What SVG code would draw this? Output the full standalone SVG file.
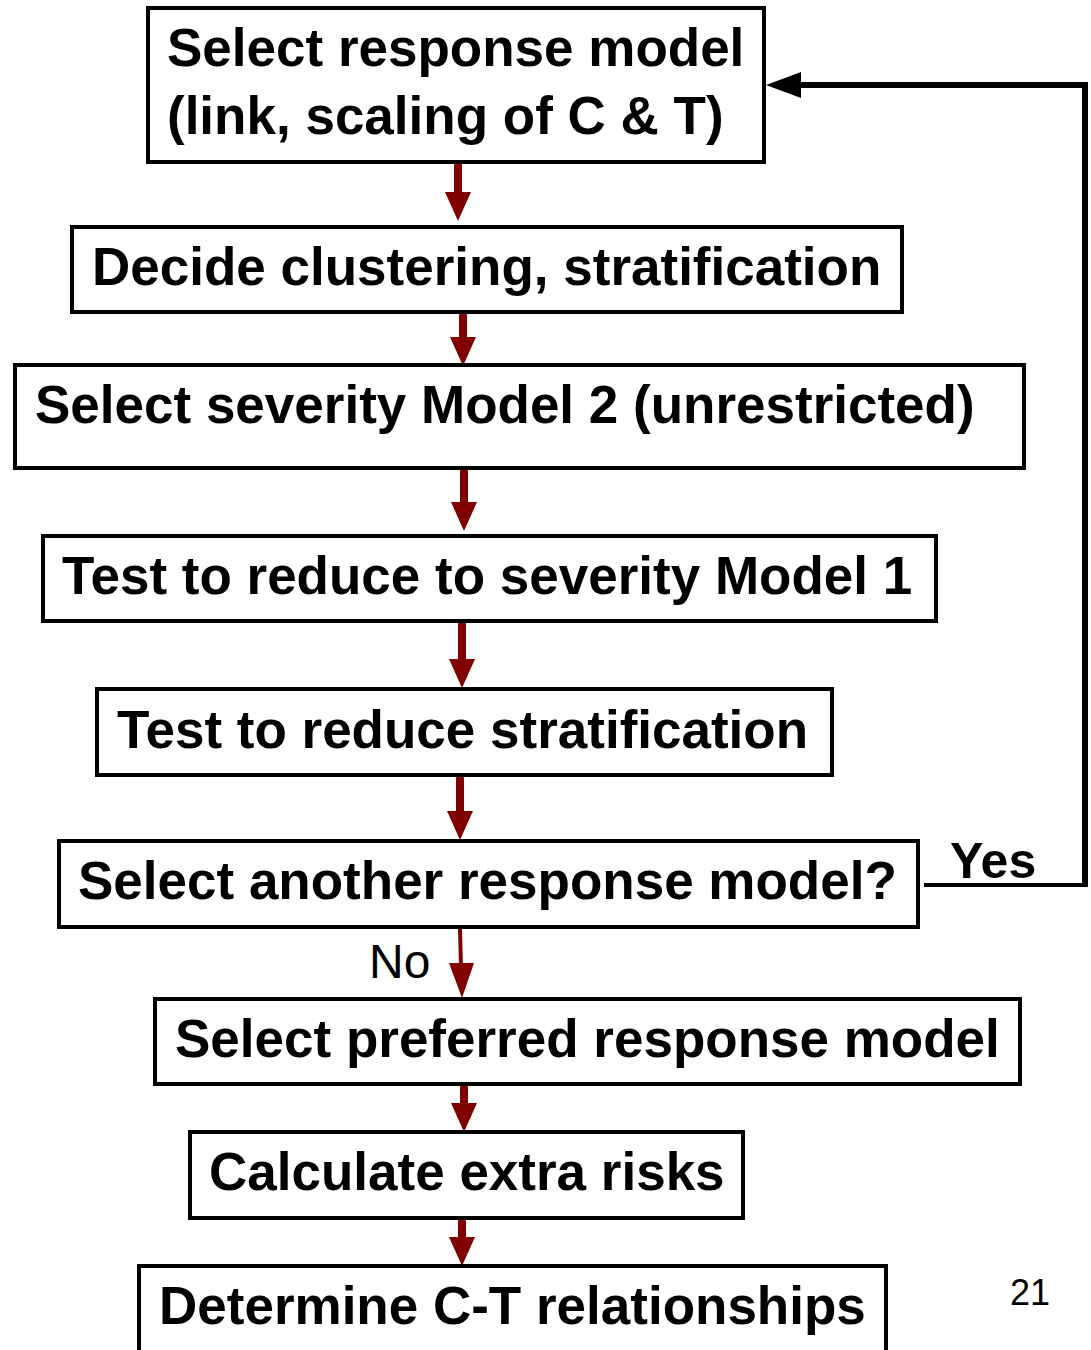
<svg xmlns="http://www.w3.org/2000/svg" width="1091" height="1350" viewBox="0 0 1091 1350">
<defs>
<style>
.box{fill:#fff;stroke:#000;stroke-width:4}
.t{font-family:"Liberation Sans",Arial,sans-serif;font-weight:bold;font-size:53px;fill:#000}
.lbl{font-family:"Liberation Sans",Arial,sans-serif;fill:#000}
.ar{stroke:#800000;stroke-width:8;stroke-linecap:round;fill:none}
.ah{fill:#800000}
</style>
</defs>
<rect width="1091" height="1350" fill="#fff"/>
<g id="connectors">
<line class="ar" x1="458" y1="166" x2="458" y2="195"/><polygon class="ah" points="445,192 471,192 458,221"/>
<line class="ar" x1="463" y1="316" x2="463" y2="340"/><polygon class="ah" points="450,337 476,337 463,366"/>
<line class="ar" x1="464" y1="472" x2="464" y2="505"/><polygon class="ah" points="451,502 477,502 464,531"/>
<line class="ar" x1="462" y1="625" x2="462" y2="662"/><polygon class="ah" points="449,659 475,659 462,688"/>
<line class="ar" x1="460" y1="779" x2="460" y2="814"/><polygon class="ah" points="447,811 473,811 460,840"/>
<line x1="460" y1="929" x2="461" y2="968" stroke="#800000" stroke-width="4"/><polygon class="ah" points="449,963 474,963 462,998"/>
<line class="ar" x1="464" y1="1088" x2="464" y2="1106"/><polygon class="ah" points="451,1103 477,1103 464,1132"/>
<line class="ar" x1="462" y1="1222" x2="462" y2="1240"/><polygon class="ah" points="449,1237 475,1237 462,1266"/>
<line x1="924" y1="885" x2="1087" y2="885" stroke="#000" stroke-width="4"/>
<polyline points="1085,887 1085,85 795,85" fill="none" stroke="#000" stroke-width="6"/>
<polygon points="766,85 801,72 801,98" fill="#000"/>
<text class="lbl" x="950" y="878" font-size="50" font-weight="bold">Yes</text>
<text class="lbl" x="369" y="978" font-size="48">No</text>
</g>
<g id="n1"><rect class="box" x="148" y="8" width="616" height="154"/><text class="t" x="167" y="66">Select response model</text><text class="t" x="167" y="134">(link, scaling of C &amp; T)</text></g>
<g id="n2"><rect class="box" x="72" y="227" width="830" height="85"/><text class="t" x="92" y="285">Decide clustering, stratification</text></g>
<g id="n3"><rect class="box" x="15" y="365" width="1009" height="103"/><text class="t" x="35" y="423">Select severity Model 2 (unrestricted)</text></g>
<g id="n4"><rect class="box" x="43" y="536" width="893" height="85"/><text class="t" x="62" y="594">Test to reduce to severity Model 1</text></g>
<g id="n5"><rect class="box" x="97" y="689" width="735" height="86"/><text class="t" x="117" y="748">Test to reduce stratification</text></g>
<g id="n6"><rect class="box" x="59" y="841" width="859" height="86"/><text class="t" x="78" y="899">Select another response model?</text></g>
<g id="n7"><rect class="box" x="155" y="999" width="865" height="85"/><text class="t" x="175" y="1057">Select preferred response model</text></g>
<g id="n8"><rect class="box" x="190" y="1132" width="553" height="86"/><text class="t" x="209" y="1190">Calculate extra risks</text></g>
<g id="n9"><rect class="box" x="139" y="1266" width="747" height="90"/><text class="t" x="159" y="1324">Determine C-T relationships</text></g>
<text class="lbl" x="1010" y="1305" font-size="36">21</text>
</svg>
